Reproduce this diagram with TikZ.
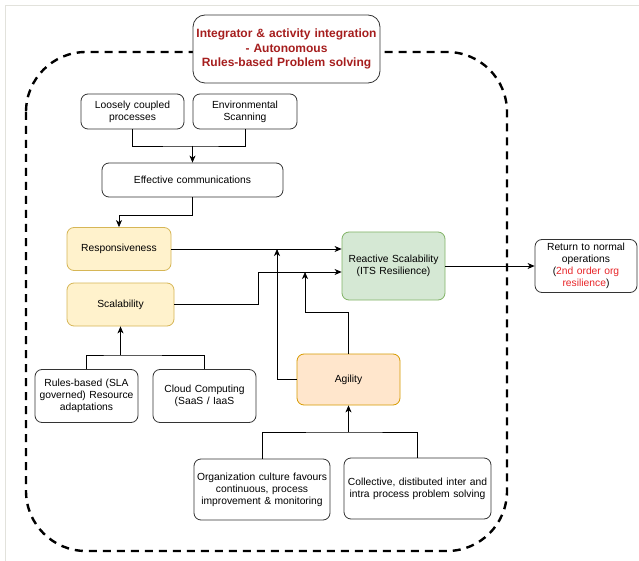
\documentclass[tikz,border=0pt]{standalone}
\usepackage{fontspec}
\setmainfont{Liberation Sans}
\usetikzlibrary{arrows.meta}
\definecolor{titlered}{HTML}{A61E1E}
\definecolor{retred}{HTML}{E8262A}
\definecolor{yelfill}{HTML}{FFF2CC}
\definecolor{yeldraw}{HTML}{D6B656}
\definecolor{orfill}{HTML}{FFE6CC}
\definecolor{ordraw}{HTML}{D79B00}
\definecolor{grfill}{HTML}{D5E8D4}
\definecolor{grdraw}{HTML}{82B366}
\definecolor{frame}{HTML}{E2E2DC}
\begin{document}
\begin{tikzpicture}[x=1pt,y=-1pt,
  box/.style={draw=black!80,line width=0.8pt,rounded corners=7pt,fill=white,
    align=center,inner sep=2pt,font=\fontsize{10.3}{12}\selectfont},
  yelbox/.style={box,fill=yelfill,draw=yeldraw},
  orbox/.style={box,fill=orfill,draw=ordraw},
  grbox/.style={box,fill=grfill,draw=grdraw},
  wire/.style={line width=0.8pt},
  flow/.style={line width=0.8pt,-{Stealth[length=7pt,width=6pt,inset=2pt]}}]
\useasboundingbox (0,0) rectangle (639,561);
\fill[white] (0,0) rectangle (639,561);
\draw[frame,line width=1pt] (5,561) -- (5,6) -- (639,6);

\draw[line width=2.4pt,dash pattern=on 8pt off 6pt,rounded corners=60pt]
  (26,52) rectangle (507,551);

\node[box,rounded corners=12pt,text width=183pt,minimum height=68pt,
  font=\fontsize{12}{14.5}\selectfont\bfseries,text=titlered]
  (title) at (286.5,49) {Integrator \& activity integration\\- Autonomous\\Rules-based Problem solving};

\node[box,text width=99pt,minimum height=35pt] (loose) at (132.5,111.5) {Loosely coupled\\processes};
\node[box,text width=100pt,minimum height=35pt] (env) at (245,111.5) {Environmental\\Scanning};
\node[box,text width=177pt,minimum height=34pt] (comm) at (192.5,180) {Effective communications};

\node[yelbox,text width=100pt,minimum height=43pt] (resp) at (119,249) {Responsiveness};
\node[yelbox,text width=103pt,minimum height=43pt] (scal) at (120.5,304.5) {Scalability};
\node[grbox,text width=99pt,minimum height=68pt] (react) at (393.5,266) {Reactive Scalability\\(ITS Resilience)};
\node[box,text width=98pt,minimum height=53pt] (ret) at (586,266)
  {Return to normal\\operations\\(\textcolor{retred}{2nd order org}\\\textcolor{retred}{resilience})};
\node[orbox,text width=99pt,minimum height=51pt] (agil) at (348.5,379.5) {Agility};

\node[box,text width=99pt,minimum height=53pt] (rules) at (86.5,396) {Rules-based (SLA\\governed) Resource\\adaptations};
\node[box,text width=99pt,minimum height=53pt] (cloud) at (204.5,396) {Cloud Computing\\(SaaS / IaaS};
\node[box,text width=132pt,minimum height=61pt] (org) at (262,489.5) {Organization culture favours\\continuous, process\\improvement \& monitoring};
\node[box,text width=143pt,minimum height=61pt] (coll) at (417.5,488.5) {Collective, distibuted inter and\\intra process problem solving};

\coordinate (topJ) at (192.5,146);
\coordinate (scalJ) at (120.5,355);
\coordinate (agilJ) at (348.5,432);
\coordinate (respIn) at (277,249);
\coordinate (scalIn) at (305,272);

\draw[wire] (loose.south) |- (topJ) -| (env.south);
\draw[flow] (topJ) -- (comm.north);
\draw[flow] (comm.south) -- ++(0,18) -| (resp.north);
\draw[flow] (resp.east) -- (resp.east -| react.west);
\draw[flow] (scal.east) -- ++(84,0) |- ([yshift=-6pt]react.west);
\draw[flow] (agil.west) -| (respIn);
\draw[flow] (agil.north) -- ++(0,-41) -| (scalIn);
\draw[flow] (react.east) -- (react.east -| ret.west);
\draw[wire] (rules.north) |- (scalJ) -| (cloud.north);
\draw[flow] (scalJ) -- (scal.south);
\draw[wire] (org.north) |- (agilJ) -| (coll.north);
\draw[flow] (agilJ) -- (agil.south);
\end{tikzpicture}
\end{document}
